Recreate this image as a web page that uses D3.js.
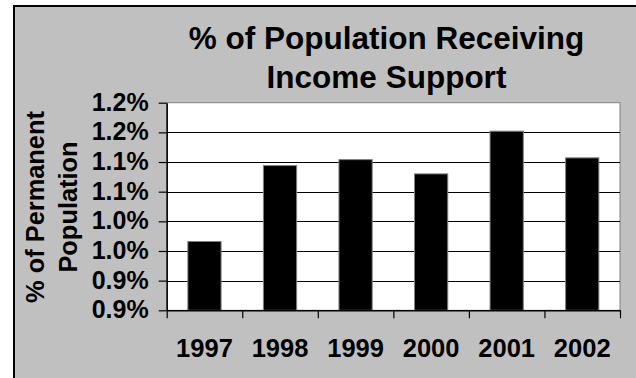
<!DOCTYPE html>
<html>
<head>
<meta charset="utf-8">
<script src="https://cdn.jsdelivr.net/npm/d3@7"></script>
<style>
  html, body { margin: 0; padding: 0; background: #ffffff; }
  svg { display: block; }
  text { font-family: "Liberation Sans", Arial, Helvetica, sans-serif; font-weight: bold; fill: #000; }
</style>
</head>
<body>
<svg id="chart" width="636" height="378"></svg>
<script>
// ---- data ----
const years = ["1997", "1998", "1999", "2000", "2001", "2002"];
const values = [0.991, 1.119, 1.129, 1.105, 1.177, 1.132]; // % of permanent population
const yTickValues = [0.875, 0.925, 0.975, 1.025, 1.075, 1.125, 1.175, 1.225];
const yTickLabels = ["0.9%", "0.9%", "1.0%", "1.0%", "1.1%", "1.1%", "1.2%", "1.2%"];
const titleLines = ["% of Population Receiving", "Income Support"];
const yTitleLines = ["% of Permanent", "Population"];

// ---- layout ----
const W = 636, H = 378;
const plot = { left: 166.7, right: 620, top: 102.7, bottom: 310.3 };

const svg = d3.select("#chart");

// chart area background with border
svg.append("rect")
  .attr("x", 14).attr("y", 6)
  .attr("width", W + 10).attr("height", H + 10)
  .attr("fill", "#c0c0c0")
  .attr("stroke", "#000").attr("stroke-width", 2);

// plot area
svg.append("rect")
  .attr("x", plot.left).attr("y", plot.top)
  .attr("width", plot.right - plot.left).attr("height", plot.bottom - plot.top)
  .attr("fill", "#ffffff")
  .attr("stroke", "#808080").attr("stroke-width", 1);

const y = d3.scaleLinear()
  .domain([yTickValues[0], yTickValues[yTickValues.length - 1]])
  .range([plot.bottom, plot.top]);

const x = d3.scaleBand()
  .domain(years)
  .range([plot.left, plot.right])
  .paddingInner(0.56)
  .paddingOuter(0.28);

// gridlines (skip top border)
svg.append("g")
  .selectAll("line")
  .data(yTickValues.slice(1, -1))
  .join("line")
  .attr("x1", plot.left).attr("x2", plot.right)
  .attr("y1", d => Math.round(y(d)) + 0.5).attr("y2", d => Math.round(y(d)) + 0.5)
  .attr("stroke", "#000").attr("stroke-width", 1);

// bars
svg.append("g")
  .selectAll("rect")
  .data(values)
  .join("rect")
  .attr("x", (d, i) => x(years[i]))
  .attr("y", d => y(d))
  .attr("width", x.bandwidth())
  .attr("height", d => y(yTickValues[0]) - y(d))
  .attr("fill", "#000")
  .attr("stroke", "#808080").attr("stroke-width", 1);

// y axis
const yAxis = d3.axisLeft(y)
  .tickValues(yTickValues)
  .tickFormat((d, i) => yTickLabels[i])
  .tickSize(8)
  .tickPadding(10)
  .tickSizeOuter(0);
const gy = svg.append("g")
  .attr("transform", `translate(${plot.left},0)`)
  .call(yAxis);
gy.select(".domain").attr("stroke", "#000").attr("stroke-width", 1.5);
gy.selectAll(".tick line").attr("stroke", "#000").attr("stroke-width", 1.2);
gy.selectAll(".tick text")
  .attr("font-size", 25)
  .attr("font-family", "Liberation Sans, Arial, sans-serif")
  .attr("font-weight", "bold")
  .attr("fill", "#000")
  .attr("dy", "0.3em");

// x axis: ticks at category boundaries
const xb = d3.scaleLinear().domain([0, years.length]).range([plot.left, plot.right]);
const xAxis = d3.axisBottom(xb)
  .tickValues(d3.range(years.length + 1))
  .tickFormat("")
  .tickSize(8)
  .tickSizeOuter(0);
const gx = svg.append("g")
  .attr("transform", `translate(0,${plot.bottom})`)
  .call(xAxis);
gx.select(".domain").attr("stroke", "#000").attr("stroke-width", 1.5);
gx.selectAll(".tick line").attr("stroke", "#000").attr("stroke-width", 1.2);

// year labels
svg.append("g")
  .selectAll("text")
  .data(years)
  .join("text")
  .attr("x", d => x(d) + x.bandwidth() / 2)
  .attr("y", 357)
  .attr("text-anchor", "middle")
  .attr("font-size", 25.5)
  .text(d => d);

// title
svg.append("g")
  .selectAll("text")
  .data(titleLines)
  .join("text")
  .attr("x", 386.5)
  .attr("y", (d, i) => 49.3 + i * 39)
  .attr("text-anchor", "middle")
  .attr("font-size", 31.5)
  .text(d => d);

// y axis title
svg.append("g")
  .attr("transform", "translate(0,207) rotate(-90)")
  .selectAll("text")
  .data(yTitleLines)
  .join("text")
  .attr("x", 0)
  .attr("y", (d, i) => 44 + i * 33)
  .attr("text-anchor", "middle")
  .attr("font-size", 25.4)
  .text(d => d);
</script>
</body>
</html>
